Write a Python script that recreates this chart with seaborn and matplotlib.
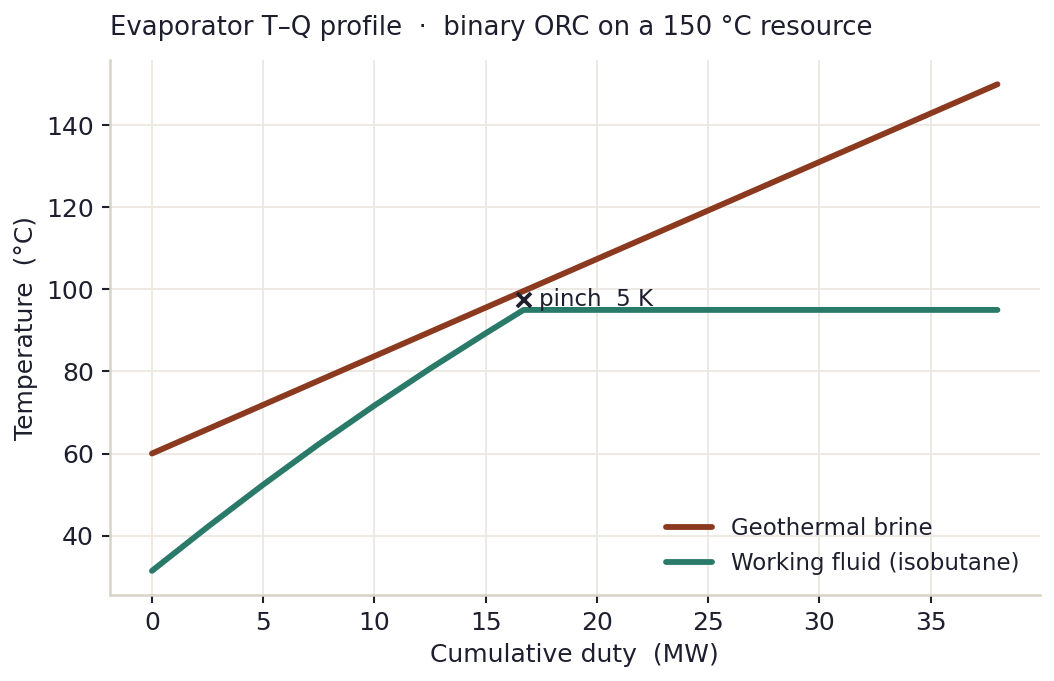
import numpy as np
import pandas as pd
import seaborn as sns
import matplotlib.pyplot as plt

# Evaporator T-Q profile data
brine_q = [0.0, 16.7, 38.0]
brine_t = [60.0, 99.6, 150.0]

wf_q = [0.0, 2.5, 5.0, 7.5, 10.0, 12.5, 15.0, 16.7, 38.0]
wf_t = [31.4, 42.1, 52.4, 62.3, 71.7, 80.7, 89.3, 95.0, 95.0]

pinch_q = 16.7
pinch_t = 97.5
pinch_label = "pinch  5 K"

series_names = ["Geothermal brine", "Working fluid (isobutane)"]
series_colors = ["#8b3a1f", "#2a7a6a"]

ink = "#1e1f2e"

sns.set_theme(style="whitegrid")
plt.rcParams["font.family"] = ["DejaVu Sans"]
plt.rcParams.update({
    "axes.edgecolor": "#d9d3c5",
    "grid.color": "#ebe6de",
    "grid.linewidth": 0.8,
    "text.color": ink,
    "axes.labelcolor": ink,
    "xtick.color": ink,
    "ytick.color": ink,
})

df = pd.concat([
    pd.DataFrame({"Q": brine_q, "T": brine_t, "stream": series_names[0]}),
    pd.DataFrame({"Q": wf_q, "T": wf_t, "stream": series_names[1]}),
])

fig, ax = plt.subplots(figsize=(7.03, 4.54), dpi=150)
fig.subplots_adjust(left=0.104, right=0.986, top=0.912, bottom=0.126)

sns.lineplot(data=df, x="Q", y="T", hue="stream", palette=series_colors,
             linewidth=2.8, ax=ax, sort=False)

ax.plot(pinch_q, pinch_t, marker="x", color=ink, markersize=7, mew=1.8)
ax.text(pinch_q + 0.7, pinch_t, pinch_label, fontsize=11, color=ink, va="center")

ax.set_xlabel("Cumulative duty  (MW)", fontsize=12)
ax.set_ylabel("Temperature  (°C)", fontsize=12)
ax.set_title("Evaporator T–Q profile  ·  binary ORC on a 150 °C resource",
             loc="left", fontsize=12.5, pad=12)
ax.tick_params(axis="both", labelsize=12, length=4, width=1, left=True, bottom=True)
sns.despine(ax=ax)
for s in ["left", "bottom"]:
    ax.spines[s].set_linewidth(1.2)

leg = ax.legend(loc="lower right", frameon=False, fontsize=11, title=None)

fig.savefig("out.png", dpi=150)
